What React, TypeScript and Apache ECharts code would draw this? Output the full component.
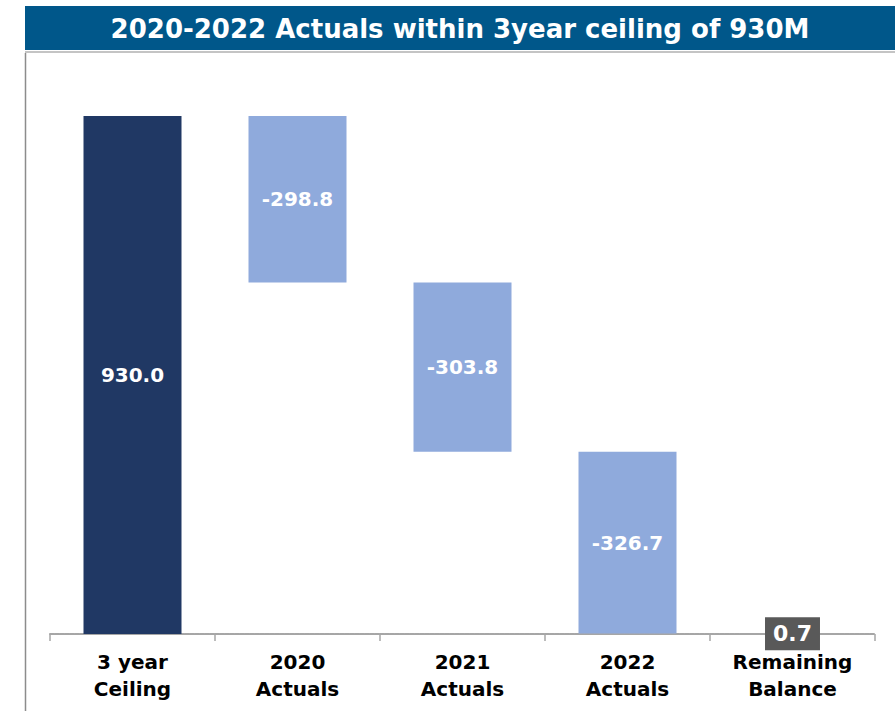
import React, { useEffect, useRef } from "react";
import * as echarts from "echarts";

const titleText = "2020-2022 Actuals within 3year ceiling of 930M";
const categories = ["3 year\nCeiling", "2020\nActuals", "2021\nActuals", "2022\nActuals", "Remaining\nBalance"];
const values = [930.0, -298.8, -303.8, -326.7, 0.7];
const kinds = ["total", "delta", "delta", "delta", "total"];

const FONT = "'DejaVu Sans', 'Liberation Sans', Arial, sans-serif";

export default function App() {
  const ref = useRef<HTMLDivElement>(null);
  useEffect(() => {
    if (!ref.current) return;
    const chart = echarts.init(ref.current, null, { renderer: "svg" });

    // running totals for waterfall
    const base: number[] = [];
    const heights: number[] = [];
    let running = 0;
    values.forEach((v, i) => {
      if (kinds[i] === "total") {
        base.push(0);
        heights.push(Math.abs(v));
        running = v;
      } else {
        const next = running + v;
        base.push(Math.min(running, next));
        heights.push(Math.abs(v));
        running = next;
      }
    });

    const barColor = (i: number) =>
      i === 0 ? "#203864" : i === values.length - 1 ? "#a6a6a6" : "#8FAADC";

    chart.setOption({
      animation: false,
      grid: { left: 50, width: 825, top: 116, height: 518 },
      graphic: [
        { type: "rect", shape: { x: 25, y: 6, width: 870, height: 44 }, style: { fill: "#00578A" } },
        { type: "rect", shape: { x: 25, y: 51, width: 870, height: 2 }, style: { fill: "#c4c4c4" } },
        { type: "line", shape: { x1: 25.5, y1: 53, x2: 25.5, y2: 711 }, style: { stroke: "#8c8c8c", lineWidth: 1.5 } },
        {
          type: "text",
          x: 460,
          y: 29,
          style: {
            text: titleText,
            fill: "#ffffff",
            font: `bold 26px ${FONT}`,
            align: "center",
            verticalAlign: "middle",
          },
        },
      ],
      xAxis: {
        type: "category",
        data: categories,
        axisLine: { show: true, lineStyle: { color: "#a6a6a6", width: 2, type: [4, 1] } },
        axisTick: { show: true, length: 7, alignWithLabel: false, lineStyle: { color: "#a6a6a6", width: 1.5 } },
        axisLabel: {
          interval: 0,
          color: "#000000",
          fontFamily: FONT,
          fontWeight: "bold",
          fontSize: 20,
          lineHeight: 27,
          margin: 14,
        },
      },
      yAxis: {
        type: "value",
        min: 0,
        max: 930,
        show: false,
        splitLine: { show: false },
      },
      series: [
        {
          type: "bar",
          stack: "wf",
          data: base,
          barWidth: 98,
          itemStyle: { color: "transparent" },
          emphasis: { disabled: true },
          silent: true,
        },
        {
          type: "bar",
          stack: "wf",
          barWidth: 98,
          data: heights.map((h, i) => ({
            value: h,
            itemStyle: { color: barColor(i) },
            label:
              i === values.length - 1
                ? {
                    show: true,
                    position: "inside",
                    backgroundColor: "#595959",
                    padding: [6, 8, 5, 8],
                    fontSize: 22,
                  }
                : { show: true, position: "inside" },
          })),
          label: {
            show: true,
            color: "#ffffff",
            fontFamily: FONT,
            fontWeight: "bold",
            fontSize: 20,
            formatter: (p: any) => values[p.dataIndex].toFixed(1),
          },
          emphasis: { disabled: true },
        },
      ],
    });
    return () => chart.dispose();
  }, []);
  return (
    <div
      ref={ref}
      style={{ position: "fixed", left: 0, top: 0, width: 895, height: 711, background: "#ffffff" }}
    />
  );
}
